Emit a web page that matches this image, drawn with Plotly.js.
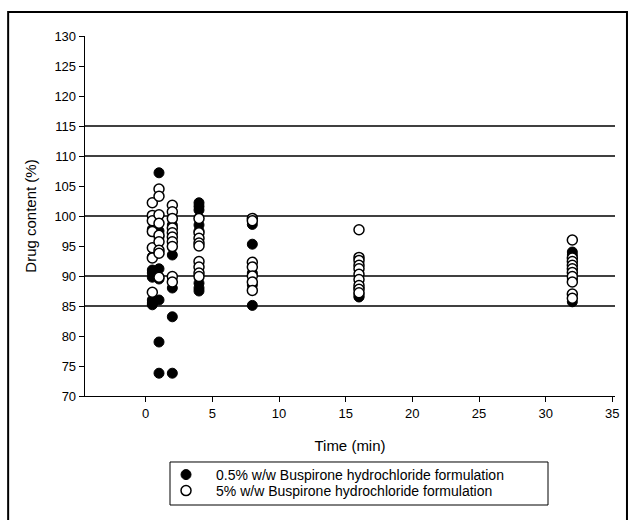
<!DOCTYPE html>
<html>
<head>
<meta charset="utf-8">
<script src="https://cdn.plot.ly/plotly-3.0.1.min.js"></script>
<style>
html,body{margin:0;padding:0;background:#fff;overflow:hidden;}
#chart{width:635px;height:520px;}
</style>
</head>
<body>
<div id="chart"></div>
<script>
// 0.5% w/w formulation (filled circles)
const lowTime = [0.5,0.5,0.5,0.5,0.5,0.5,0.5,0.5,
                 1,1,1,1,1,1,1,1,
                 2,2,2,2,2,
                 4,4,4,4,4,4,4,4,
                 8,8,8,8,8,
                 16,16,16,16,
                 32,32,32,32];
const lowContent = [97.8,93.2,91,90.5,89.8,86,85.5,85.2,
                    107.2,97.5,96.5,91.2,89.5,86,79,73.8,
                    98.5,93.5,88,83.2,73.8,
                    102.2,101.6,101,98.5,97.5,88.8,88,87.5,
                    98.6,95.3,90.5,88.5,85.1,
                    88,87,86.6,86.5,
                    94,93.5,89.5,85.7];
// 5% w/w formulation (open circles)
const highTime = [0.5,0.5,0.5,0.5,0.5,0.5,0.5,
                  1,1,1,1,1,1,1,1,1,
                  2,2,2,2,2,2,2,2,2,2,
                  4,4,4,4,4,4,4,4,4,
                  8,8,8,8,8,8,8,
                  16,16,16,16,16,16,16,16,16,16,
                  32,32,32,32,32,32,32,32,32,32];
const highContent = [102.2,100.1,99.2,97.4,94.7,93,87.3,
                     104.5,103.3,100.2,98.8,96.8,95.7,94.3,93.8,89.8,
                     101.8,100.7,99.6,98,97.2,96.5,95.7,94.9,89.9,89,
                     99.6,97.2,96.3,95.5,95,92.4,91.5,90.5,89.9,
                     99.6,99.2,92.3,91.5,90,89,87.6,
                     97.7,93.1,92.6,91.8,91.2,90.3,89.4,88.4,87.8,87.2,
                     96,93,92.4,91.8,91.2,90.6,89.9,89,87,86.3];
const refLevels = [85, 90, 100, 110, 115];
const xTicks = [0,5,10,15,20,25,30,35];
const yTicks = [70,75,80,85,90,95,100,105,110,115,120,125,130];
const seriesNames = ["0.5% w/w Buspirone hydrochloride formulation",
                     "5% w/w Buspirone hydrochloride formulation"];

const FONT = "Liberation Sans, Arial, sans-serif";

const traces = [
  {x: lowTime, y: lowContent, type: "scatter", mode: "markers", name: seriesNames[0],
   legend: "legend",
   marker: {symbol: "circle", size: 10, color: "#000", line: {color: "#000", width: 1}}},
  {x: highTime, y: highContent, type: "scatter", mode: "markers", name: seriesNames[1],
   legend: "legend2",
   marker: {symbol: "circle", size: 10, color: "#fff", line: {color: "#000", width: 1.5}}}
];

const shapes = refLevels.map(v => ({
  type: "line", xref: "paper", yref: "y", x0: 0, x1: 1, y0: v, y1: v,
  line: {color: "#000", width: 1.3}, layer: "below"
}));
// legend box
shapes.push({type: "rect", xref: "paper", yref: "paper",
  x0: 0.1604, x1: 0.8736, y0: -0.3028, y1: -0.1833,
  line: {color: "#000", width: 1}, fillcolor: "rgba(0,0,0,0)"});
// outer figure frame
shapes.push({type: "rect", xref: "paper", yref: "paper",
  x0: -0.145, x1: 1.0226, y0: -0.42, y1: 1.0667,
  line: {color: "#000", width: 2}, fillcolor: "rgba(0,0,0,0)"});

const legendBase = {
  xanchor: "left", yanchor: "middle", x: 0.134,
  bgcolor: "rgba(0,0,0,0)", borderwidth: 0, itemwidth: 50,
  font: {family: FONT, size: 14, color: "#000"}
};

const layout = {
  width: 635, height: 520,
  margin: {l: 85, r: 20, t: 36, b: 124, autoexpand: false},
  paper_bgcolor: "#fff", plot_bgcolor: "#fff",
  font: {family: FONT, color: "#000", size: 13},
  showlegend: true,
  legend: Object.assign({}, legendBase, {y: -0.2194}),
  legend2: Object.assign({}, legendBase, {y: -0.2639}),
  xaxis: {
    range: [-4.55, 35.2], tickvals: xTicks, ticktext: xTicks.map(String),
    showgrid: false, zeroline: false, showline: true, linecolor: "#000", linewidth: 1.3,
    ticks: "outside", ticklen: 5, tickwidth: 1, tickcolor: "#000",
    tickfont: {family: FONT, size: 13, color: "#000"},
    title: {text: "Time (min)", font: {family: FONT, size: 15, color: "#000"}, standoff: 20}
  },
  yaxis: {
    range: [70, 130], tickvals: yTicks, ticktext: yTicks.map(String),
    showgrid: false, zeroline: false, showline: true, linecolor: "#000", linewidth: 1.3,
    ticks: "outside", ticklen: 5, tickwidth: 1, tickcolor: "#000",
    tickfont: {family: FONT, size: 13, color: "#000"},
    title: {text: "Drug content (%)", font: {family: FONT, size: 15, color: "#000"}, standoff: 14}
  },
  shapes: shapes
};

Plotly.newPlot("chart", traces, layout, {displayModeBar: false, staticPlot: true});
</script>
</body>
</html>
